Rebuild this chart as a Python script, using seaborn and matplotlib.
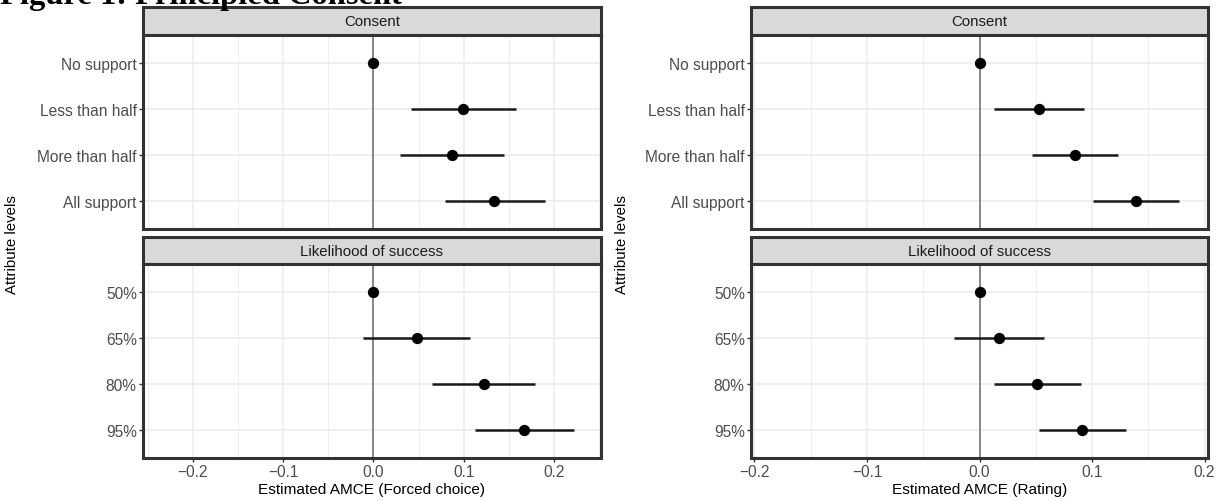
import matplotlib
matplotlib.use("Agg")
import matplotlib.pyplot as plt
import seaborn as sns
import numpy as np
import pandas as pd

# ---------------- data ----------------
consent_levels = ["No support", "Less than half", "More than half", "All support"]
success_levels = ["50%", "65%", "80%", "95%"]

fc_consent_est = [0.0, 0.099, 0.087, 0.134]
fc_consent_lo = [0.0, 0.042, 0.030, 0.079]
fc_consent_hi = [0.0, 0.158, 0.145, 0.190]

fc_success_est = [0.0, 0.048, 0.122, 0.167]
fc_success_lo = [0.0, -0.011, 0.065, 0.112]
fc_success_hi = [0.0, 0.107, 0.179, 0.222]

rt_consent_est = [0.0, 0.053, 0.085, 0.139]
rt_consent_lo = [0.0, 0.013, 0.047, 0.101]
rt_consent_hi = [0.0, 0.093, 0.123, 0.177]

rt_success_est = [0.0, 0.017, 0.051, 0.091]
rt_success_lo = [0.0, -0.023, 0.013, 0.053]
rt_success_hi = [0.0, 0.057, 0.090, 0.130]

x_ticks = [-0.2, -0.1, 0.0, 0.1, 0.2]
x_tick_labels = ["\u22120.2", "\u22120.1", "0.0", "0.1", "0.2"]
facet_titles = ["Consent", "Likelihood of success"]
x_titles = ["Estimated AMCE (Forced choice)", "Estimated AMCE (Rating)"]
y_title = "Attribute levels"
fig_title = "Figure 1: Principled Consent"

# ---------------- style ----------------
sns.set_theme(style="white")
plt.rcParams["font.family"] = ["Liberation Sans", "DejaVu Sans"]

W, H = 1220, 502
fig = plt.figure(figsize=(W / 100, H / 100), dpi=100)


def rect(x0, y0, x1, y1):
    return [x0 / W, 1 - y1 / H, (x1 - x0) / W, (y1 - y0) / H]


BORDER = "#333333"
GRID = "#EBEBEB"
TICKCOL = "#4D4D4D"


def make_strip(x0, x1, y0, y1, label):
    sax = fig.add_axes(rect(x0, y0, x1, y1))
    sax.set_facecolor("#D9D9D9")
    sax.set_xticks([])
    sax.set_yticks([])
    for s in sax.spines.values():
        s.set_color(BORDER)
        s.set_linewidth(2.2)
        s.set_visible(True)
    sax.text(0.5, 0.5, label, ha="center", va="center", fontsize=10.8,
             color="#1A1A1A", transform=sax.transAxes)


def panel(x0, x1, y0, y1, levels, est, lo, hi, xlim, minor, show_xt, xtitle):
    ax = fig.add_axes(rect(x0, y0, x1, y1))
    df = pd.DataFrame({"level": levels, "est": est, "lo": lo, "hi": hi})
    ax.set_facecolor("white")
    # grid
    for m in minor:
        ax.axvline(m, color=GRID, lw=0.6, zorder=0)
    for t in x_ticks:
        ax.axvline(t, color=GRID, lw=1.1, zorder=0)
    ax.axvline(0, color="#7F7F7F", lw=1.3, zorder=1)
    ax.hlines(df["level"], xlim[0], xlim[1], color=GRID, lw=1.1, zorder=0)
    # error bars
    ax.hlines(df["level"], df["lo"], df["hi"], color="#1A1A1A", lw=1.8, zorder=2)
    sns.scatterplot(data=df, x="est", y="level", ax=ax, color="black",
                    s=66, edgecolor="black", linewidth=0, zorder=3, legend=False)
    ax.set_xlim(*xlim)
    ax.set_ylim(3.6, -0.6)
    ax.set_xticks(x_ticks)
    ax.set_ylabel("")
    ax.tick_params(axis="both", direction="out", length=3.0, width=1.0,
                   color=BORDER, labelcolor=TICKCOL, labelsize=11.2, pad=1.5,
                   bottom=True, left=True)
    if show_xt:
        ax.set_xticklabels(x_tick_labels)
        ax.set_xlabel(xtitle, fontsize=11.1, color="black", labelpad=2)
    else:
        ax.set_xticklabels([])
        ax.set_xlabel("")
        ax.tick_params(axis="x", length=0)
    for s in ax.spines.values():
        s.set_color(BORDER)
        s.set_linewidth(2.2)
        s.set_visible(True)
    return ax


LX0, LX1 = 143, 601
RX0, RX1 = 751, 1208
TOP_S = (8, 36)
TOP_P = (36, 230)
BOT_S = (238, 265)
BOT_P = (265, 459)

left_xlim = (-0.255, 0.252)
right_xlim = (-0.203, 0.203)
left_minor = [-0.25, -0.15, -0.05, 0.05, 0.15, 0.25]
right_minor = [-0.15, -0.05, 0.05, 0.15]

for (x0, x1, xlim, minor, c_est, c_lo, c_hi, s_est, s_lo, s_hi, xt) in [
    (LX0, LX1, left_xlim, left_minor, fc_consent_est, fc_consent_lo, fc_consent_hi,
     fc_success_est, fc_success_lo, fc_success_hi, x_titles[0]),
    (RX0, RX1, right_xlim, right_minor, rt_consent_est, rt_consent_lo, rt_consent_hi,
     rt_success_est, rt_success_lo, rt_success_hi, x_titles[1]),
]:
    make_strip(x0, x1, TOP_S[0], TOP_S[1], facet_titles[0])
    panel(x0, x1, TOP_P[0], TOP_P[1], consent_levels, c_est, c_lo, c_hi,
          xlim, minor, False, "")
    make_strip(x0, x1, BOT_S[0], BOT_S[1], facet_titles[1])
    panel(x0, x1, BOT_P[0], BOT_P[1], success_levels, s_est, s_lo, s_hi,
          xlim, minor, True, xt)

fig.text(12 / W, 1 - 245 / H, y_title, rotation=90, ha="center", va="center",
         fontsize=10.8, color="black")
fig.text(622 / W, 1 - 245 / H, y_title, rotation=90, ha="center", va="center",
         fontsize=10.8, color="black")

fig.text(0, 1 - 4 / H, fig_title, ha="left", va="baseline",
         fontsize=23.4, fontweight="bold", family=["Liberation Serif", "DejaVu Serif"],
         color="black")

fig.savefig("out.png", dpi=100, facecolor="white")
